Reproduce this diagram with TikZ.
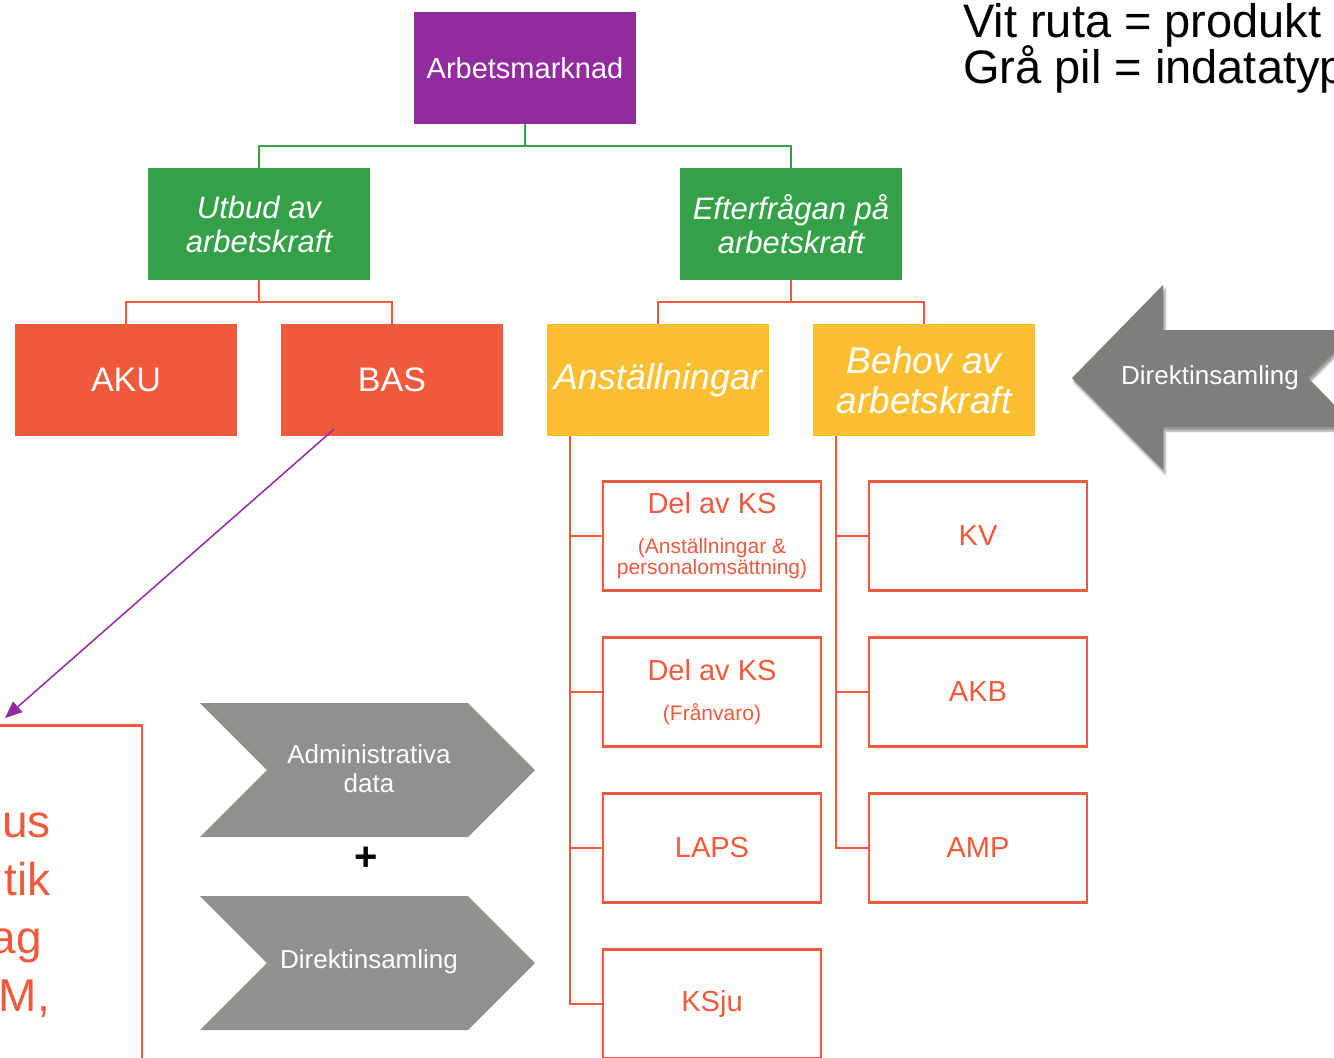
\documentclass[tikz,border=0pt]{standalone}
\usepackage{fontspec}
\setmainfont{Liberation Sans}
\usetikzlibrary{calc}
\usetikzlibrary{arrows.meta,shadows.blur}
\definecolor{lila}{HTML}{922B9E}
\definecolor{gron}{HTML}{34A048}
\definecolor{rod}{HTML}{F05A3C}
\definecolor{gul}{HTML}{FBBF31}
\definecolor{gra}{HTML}{91918C}
\definecolor{morkgra}{HTML}{7E7F79}
\newcommand{\storlek}[2]{\fontsize{#1pt}{#2pt}\selectfont}
\tikzset{
	% Two box styles for the chart: filled and outlined
	fylld box/.style={rectangle,minimum width=222pt,minimum height=112pt,inner sep=0pt,align=center,text=white},
	produkt box/.style={rectangle,draw=rod,line width=2.5pt,fill=white,minimum width=218pt,minimum height=109pt,inner sep=0pt,align=center,text=rod,font=\storlek{29}{32}},
	gron linje/.style={draw=gron,line width=2.5pt},
	rod linje/.style={draw=rod,line width=2.5pt},
	indata text/.style={text=white,align=center,font=\storlek{26}{29}}
}

\begin{document}
\begin{tikzpicture}[x=1pt,y=-1pt,
	edge from parent path={(\tikzparentnode.south) -- ++(0,22) -| (\tikzchildnode.north)}]
	\useasboundingbox (0,0) rectangle (1334,1058);
	\clip (0,0) rectangle (1334,1058);
	% macro for product boxes and grey input arrows
	\newcommand{\produkt}[4][]{\node(#2)[produkt box,#1] at (#3){#4};}
	\newcommand{\indatapil}[3]{
		\fill[gra] (#2) ++(0,-67) -- ++(268,0) -- ++(67,67) -- ++(-67,67) -- ++(-268,0) -- ++(67,-67) -- cycle;
		\node(#1)[indata text] at ($(#2)+(169,-1)$){#3};}
	% Specify spacing for each level of the tree
	\tikzstyle{level 1}=[level distance=156pt,sibling distance=532pt]
	\tikzstyle{level 2}=[level distance=156pt,sibling distance=266pt]
	
	\node(0)[fylld box,fill=lila,font=\storlek{29}{32}] at (525,68) {Arbetsmarknad}
	child{
		node(0-1)[fylld box,fill=gron,font={\itshape\storlek{31}{34}}]{Utbud av\\arbetskraft}
		child{
			node(0-1-1)[fylld box,fill=rod,font=\storlek{34}{38}]{AKU}
			edge from parent[rod linje]
		}
		child{
			node(0-1-2)[fylld box,fill=rod,font=\storlek{34}{38}]{BAS}
			edge from parent[rod linje]
		}
		edge from parent[gron linje]
	}
	child{
		node(0-2)[fylld box,fill=gron,font={\itshape\storlek{31}{34}}]{Efterfrågan på\\arbetskraft}
		child{
			node(0-2-1)[fylld box,fill=gul,font={\itshape\storlek{36}{40}}]{Anställningar}
			edge from parent[rod linje]
		}
		child{
			node(0-2-2)[fylld box,fill=gul,font={\itshape\storlek{37}{40}}]{Behov av\\arbetskraft}
			edge from parent[rod linje]
		}
		edge from parent[gron linje]
	}
	;
	
	\produkt[font=\storlek{21}{21}]{0-2-1-1}{712,536}{{\storlek{29}{29}Del av KS}\\[19pt](Anställningar \&\\personalomsättning)}
	\produkt[font=\storlek{21}{21}]{0-2-1-2}{712,692}{{\storlek{29}{29}Del av KS}\\[19pt](Frånvaro)}
	\produkt{0-2-1-3}{712,848}{LAPS}
	\produkt{0-2-1-4}{712,1004}{KSju}
	\produkt{0-2-2-1}{978,536}{KV}
	\produkt{0-2-2-2}{978,692}{AKB}
	\produkt{0-2-2-3}{978,848}{AMP}
	
	\foreach \i in {1,...,4}
		\draw[rod linje] ($(0-2-1.south west)+(23,0)$) |- (0-2-1-\i.west);
	\foreach \i in {1,...,3}
		\draw[rod linje] ($(0-2-2.south west)+(23,0)$) |- (0-2-2-\i.west);
	
	% box cut by the left edge
	\node(vanster)[produkt box,minimum width=300pt,minimum height=400pt,anchor=north east] at (143,724){};
	\node(vanster-1)[anchor=base east,inner sep=0pt,text=rod,font=\storlek{46}{50}] at (51,837){us};
	\node(vanster-2)[anchor=base east,inner sep=0pt,text=rod,font=\storlek{46}{50}] at (51,895){tik};
	\node(vanster-3)[anchor=base east,inner sep=0pt,text=rod,font=\storlek{46}{50}] at (42,953){ag};
	\node(vanster-4)[anchor=base east,inner sep=0pt,text=rod,font=\storlek{46}{50}] at (50,1011){M,};
	
	\coordinate(pilstart) at ($(0-1-2.south)+(-58,-7)$);
	\coordinate(pilslut) at (5,718);
	\draw[lila,line width=1.5pt,-{Triangle[length=17pt,width=14pt]}] (pilstart) -- (pilslut);
	
	\indatapil{admin}{200,770}{Administrativa\\data}
	\indatapil{direkt}{200,963}{Direktinsamling}
	\node(plus)[font=\bfseries\storlek{40}{40}] at (366,859){+};
	
	\fill[morkgra,blur shadow={shadow xshift=2pt,shadow yshift=-4pt,shadow opacity=40}] (1072,378) -- (1163,285) -- (1163,330) -- (1356,330) -- (1308,378) -- (1356,427) -- (1163,427) -- (1163,470) -- cycle;
	\node(hoger)[indata text] at (1210,378){Direktinsamling};
	
	\node(vitruta)[anchor=base west,inner sep=0pt,font=\storlek{47}{48}] at (963,37){Vit ruta = produkt};
	\node(grapil)[anchor=base west,inner sep=0pt,font=\storlek{47}{48}] at (963,83){Grå pil = indatatyp};
\end{tikzpicture}
\end{document}
